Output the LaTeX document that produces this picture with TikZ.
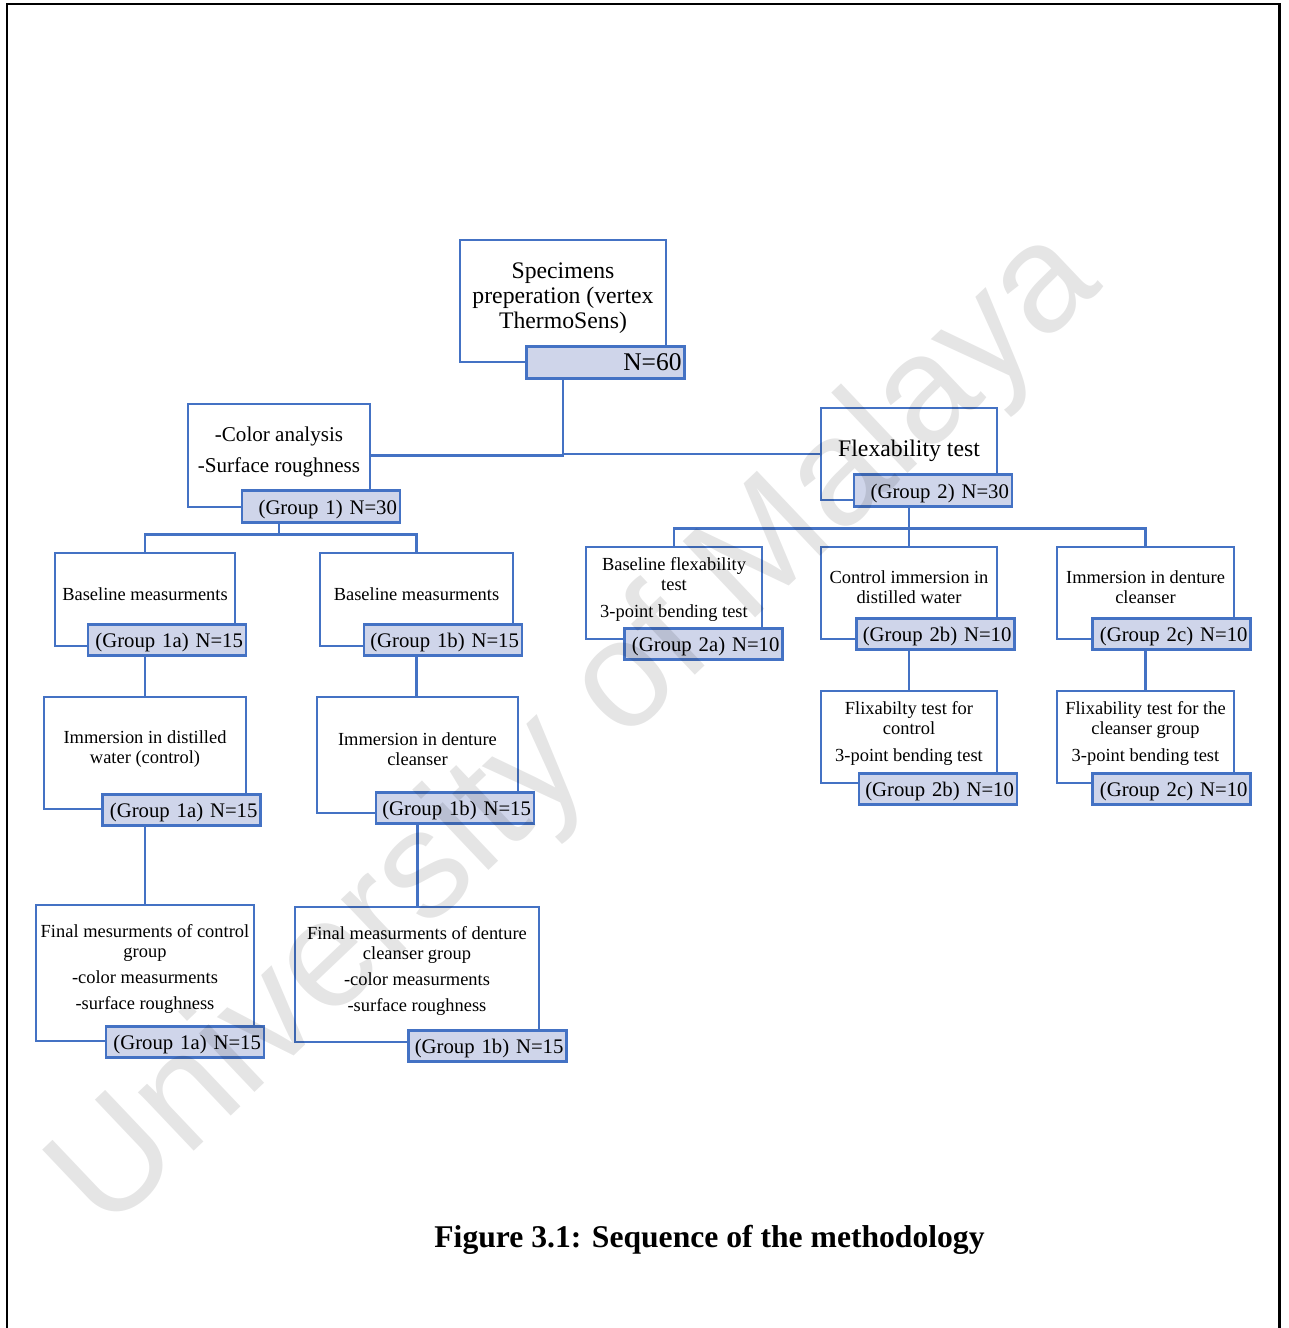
\documentclass[tikz,border=0pt]{standalone}
\usepackage{fontspec}
\setmainfont{Liberation Serif}
\newfontfamily\wmfont{Liberation Sans}
\usepackage{xcolor}
\usetikzlibrary{positioning,calc}
\definecolor{BoxBlue}{RGB}{68,114,196}
\definecolor{LabelFill}{RGB}{207,213,234}
\tikzset{
    block/.style={draw=BoxBlue, line width=1.5pt, rectangle, align=center,
                  inner sep=2pt, text depth=6.4pt, sharp corners},
    smallblock/.style={block, font=\fontsize{10.5}{11.3}\selectfont},
    countlabel/.style={draw=BoxBlue, fill=LabelFill, line width=1.6pt, rectangle,
                       minimum height=0.63cm, text width=3.04cm, inner xsep=0.06cm,
                       inner ysep=0pt, text height=11.5pt, text depth=2.6pt,
                       align=right, font=\fontsize{11.8}{14}\selectfont},
    % Connector styles
    conn/.style={draw=BoxBlue, line width=1.5pt},
    frame/.style={draw=black, line width=1.7pt},
    watermark/.style={text=black, text opacity=0.1, inner sep=0pt,
                      font=\wmfont\fontsize{87}{90}\selectfont},
    caption/.style={font=\bfseries\fontsize{18}{20}\selectfont}
}

\begin{document}
\begin{tikzpicture}[x=0.02cm, y=-0.02cm]
    \useasboundingbox (0,0) rectangle (1288,1328);
    \draw[frame] (7,1328) -- (7,4) -- (1279,4) -- (1279,1328);

    % Top level
    \node[block, minimum width=4.12cm, minimum height=2.44cm,
          font=\fontsize{13.5}{14.2}\selectfont] (spec) at (563,301)
          {Specimens\\preperation (vertex\\ThermoSens)};
    \node[block, minimum width=3.64cm, minimum height=2.06cm,
          font=\fontsize{12}{17.5}\selectfont] (color) at (279,455.5)
          {-Color analysis\\-Surface roughness};
    \node[block, minimum width=3.52cm, minimum height=1.84cm,
          font=\fontsize{13.5}{14.2}\selectfont] (flex) at (909,454) {Flexability test};

    % Group 1 boxes
    \node[smallblock, minimum width=3.6cm, minimum height=1.86cm] (base1a) at (145,599.5)
          {Baseline measurments};
    \node[smallblock, minimum width=3.86cm, minimum height=1.86cm] (base1b) at (416.5,599.5)
          {Baseline measurments};
    \node[smallblock, minimum width=4.04cm, minimum height=2.24cm] (imm1a) at (145,753)
          {Immersion in distilled\\water (control)};
    \node[smallblock, minimum width=4.02cm, minimum height=2.32cm] (imm1b) at (417.5,755)
          {Immersion in denture\\cleanser};
    \node[smallblock, minimum width=4.36cm, minimum height=2.72cm] (fin1a) at (145,973)
          {Final mesurments of control\\group\\[3.5pt]-color measurments\\[3.5pt]-surface roughness};
    \node[smallblock, minimum width=4.88cm, minimum height=2.7cm] (fin1b) at (417,974.5)
          {Final measurments of denture\\cleanser group\\[3.5pt]-color measurments\\[3.5pt]-surface roughness};

    % Group 2 boxes
    \node[smallblock, minimum width=3.52cm, minimum height=1.84cm] (base2a) at (674,593)
          {Baseline flexability\\test\\[4pt]3-point bending test};
    \node[smallblock, minimum width=3.52cm, minimum height=1.84cm] (imm2b) at (909,593)
          {Control immersion in\\distilled water};
    \node[smallblock, minimum width=3.54cm, minimum height=1.84cm] (imm2c) at (1145.5,593)
          {Immersion in denture\\cleanser};
    \node[smallblock, minimum width=3.52cm, minimum height=1.84cm] (flx2b) at (909,737)
          {Flixabilty test for\\control\\[4pt]3-point bending test};
    \node[smallblock, minimum width=3.54cm, minimum height=1.84cm] (flx2c) at (1145.5,737)
          {Flixability test for the\\cleanser group\\[4pt]3-point bending test};

    % Count labels
    \node[countlabel, font=\fontsize{14.5}{16}\selectfont] (n60) at (605.5,362.5) {N=60};
    \node[countlabel] (g1) at (321,506.5) {(Group 1) N=30};
    \node[countlabel] (g2) at (933,490.5) {(Group 2) N=30};
    \node[countlabel] (l1a) at (167,640) {(Group 1a) N=15};
    \node[countlabel] (l1b) at (443,640) {(Group 1b) N=15};
    \node[countlabel] (l1ai) at (181.5,810) {(Group 1a) N=15};
    \node[countlabel] (l1bi) at (455,808) {(Group 1b) N=15};
    \node[countlabel] (l1af) at (185,1042) {(Group 1a) N=15};
    \node[countlabel] (l1bf) at (487.5,1046) {(Group 1b) N=15};
    \node[countlabel] (l2a) at (703.5,644) {(Group 2a) N=10};
    \node[countlabel] (l2b) at (935.5,634) {(Group 2b) N=10};
    \node[countlabel] (l2c) at (1171.5,634) {(Group 2c) N=10};
    \node[countlabel] (l2bf) at (938,789) {(Group 2b) N=10};
    \node[countlabel] (l2cf) at (1171.5,789) {(Group 2c) N=10};

    % Split into the two groups
    \draw[conn] (spec |- n60.south) |- (color.east);
    \draw[conn] (spec |- n60.south) |- (flex.west);

    % Group 1 tree
    \coordinate (g1split) at ($(color |- g1.south)+(0,11)$);
    \draw[conn] (color |- g1.south) -- (g1split);
    \draw[conn] (g1split) -| (base1a.north);
    \draw[conn] (g1split) -| (base1b.north);
    \draw[conn] (base1a |- l1a.south) -- (imm1a.north);
    \draw[conn] (imm1a |- l1ai.south) -- (fin1a.north);
    \draw[conn] (base1b |- l1b.south) -- (base1b |- imm1b.north);
    \draw[conn] (imm1b |- l1bi.south) -- (imm1b |- fin1b.north);

    % Group 2 tree
    \coordinate (g2split) at ($(flex |- g2.south)+(0,21)$);
    \draw[conn] (flex |- g2.south) -- (g2split);
    \foreach \n in {base2a,imm2b,imm2c}
        \draw[conn] (g2split) -| (\n.north);
    \draw[conn] (imm2b |- l2b.south) -- (flx2b.north);
    \draw[conn] (imm2c |- l2c.south) -- (flx2c.north);

    \node[caption] (cap) at (709.5,1240) {Figure 3.1: Sequence of the methodology};

    % Watermark on top
    \node[watermark, rotate=43.5] (wm) at (578,732) {University of Malaya};
\end{tikzpicture}
\end{document}
